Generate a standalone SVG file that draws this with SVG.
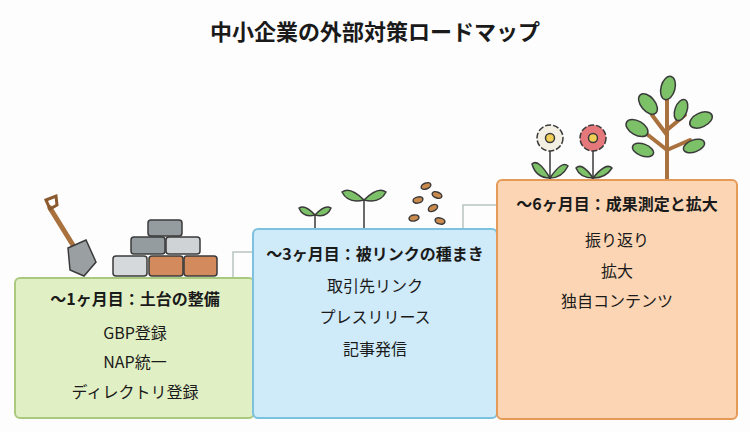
<svg xmlns="http://www.w3.org/2000/svg" width="750" height="432" viewBox="0 0 750 432">
<style>
text{font-family:"Noto Sans CJK JP","Noto Sans",sans-serif;fill:#1a1a1a;text-anchor:middle}
.h{font-size:16px;font-weight:bold}
.i{font-size:16px}
.t{font-size:22px;font-weight:bold}
.ol{stroke:#3a3a3a;stroke-width:1.5}
.conn{fill:none;stroke:#b8c4c0;stroke-width:1.5}
</style>
<rect width="750" height="432" fill="#fdfdfd"/>
<text class="t" x="375" y="40">中小企業の外部対策ロードマップ</text>
<g id="connectors">
<path class="conn" d="M233 278 V252 H254"/>
<path class="conn" d="M463 229 V205 H497"/>
</g>
<g id="deco">
<line x1="50" y1="208" x2="76" y2="250" stroke="#a9713e" stroke-width="5" stroke-linecap="round"/>
<path d="M46 200 L56 196 L57 205 L50 209 Z" fill="none" stroke="#8a5a2e" stroke-width="3"/>
<path class="ol" d="M68 248 L86 240 L96 262 L84 276 L70 270 Z" fill="#9aa0a2"/>
<g class="ol">
<rect x="148" y="220" width="34" height="16" rx="3" fill="#959ca0"/>
<rect x="131" y="237" width="34" height="17" rx="3" fill="#959ca0"/>
<rect x="166" y="237" width="34" height="17" rx="3" fill="#cfd3d5"/>
<rect x="113" y="256" width="34" height="20" rx="3" fill="#d6d9db"/>
<rect x="149" y="256" width="34" height="20" rx="3" fill="#d38a5c"/>
<rect x="184" y="256" width="33" height="20" rx="3" fill="#d38a5c"/>
</g>
<g class="ol" fill="#7cc168">
<line x1="315" y1="215" x2="315" y2="229"/>
<path d="M315 215 Q305 204 299 208 Q303 218 315 215Z"/>
<path d="M315 215 Q325 204 331 208 Q327 218 315 215Z"/>
<line x1="364" y1="200" x2="364" y2="229"/>
<path d="M364 200 Q350 186 342 192 Q348 204 364 200Z"/>
<path d="M364 200 Q378 186 386 192 Q380 204 364 200Z"/>
</g>
<g class="ol" fill="#c98a4e" stroke-width="1.2">
<ellipse cx="426" cy="186" rx="5" ry="3" transform="rotate(-20 426 186)"/>
<ellipse cx="437" cy="195" rx="5" ry="3" transform="rotate(20 437 195)"/>
<ellipse cx="418" cy="200" rx="5" ry="3" transform="rotate(-15 418 200)"/>
<ellipse cx="433" cy="208" rx="5" ry="3" transform="rotate(-30 433 208)"/>
<ellipse cx="414" cy="218" rx="5" ry="3" transform="rotate(-10 414 218)"/>
<ellipse cx="440" cy="221" rx="5" ry="3" transform="rotate(15 440 221)"/>
</g>
<g class="ol">
<line x1="550" y1="145" x2="550" y2="180"/>
<path d="M550 178 Q538 158 532 164 Q536 178 550 178Z" fill="#7cc168"/>
<path d="M550 178 Q562 160 568 166 Q562 178 550 178Z" fill="#7cc168"/>
<circle cx="550" cy="138" r="13" fill="#f3efe3" stroke-dasharray="6 2"/>
<circle cx="550" cy="138" r="4.5" fill="#f1cf57"/>
<line x1="593" y1="145" x2="593" y2="180"/>
<path d="M593 178 Q582 162 576 168 Q580 178 593 178Z" fill="#7cc168"/>
<path d="M593 178 Q606 162 612 168 Q606 178 593 178Z" fill="#7cc168"/>
<circle cx="593" cy="138" r="13" fill="#e4787a" stroke-dasharray="6 2"/>
<circle cx="593" cy="138" r="4.5" fill="#f1cf57"/>
</g>
<g>
<path d="M667 180 L667 95 M667 150 L648 135 M667 135 L652 115 M667 150 L690 140 M667 130 L685 115" fill="none" stroke="#a9713e" stroke-width="4" stroke-linecap="round"/>
<g class="ol" fill="#7cc168">
<ellipse cx="668" cy="88" rx="7" ry="12" transform="rotate(15 668 88)"/>
<ellipse cx="648" cy="104" rx="7" ry="12" transform="rotate(-40 648 104)"/>
<ellipse cx="637" cy="128" rx="7" ry="12" transform="rotate(-60 637 128)"/>
<ellipse cx="681" cy="110" rx="6" ry="11" transform="rotate(20 681 110)"/>
<ellipse cx="701" cy="120" rx="7" ry="12" transform="rotate(65 701 120)"/>
<ellipse cx="643" cy="150" rx="6" ry="11" transform="rotate(-70 643 150)"/>
<ellipse cx="694" cy="146" rx="6" ry="11" transform="rotate(70 694 146)"/>
</g>
</g>
</g>
<g id="step1">
<rect x="15" y="278" width="239" height="140" rx="5" fill="#e1f0c4" stroke="#a9c97f" stroke-width="2"/>
<text class="h" x="135" y="305">〜1ヶ月目：土台の整備</text>
<text class="i" x="135" y="339">GBP登録</text>
<text class="i" x="135" y="368">NAP統一</text>
<text class="i" x="135" y="398">ディレクトリ登録</text>
</g>
<g id="step2">
<rect x="253" y="229" width="244" height="189" rx="5" fill="#cfeaf8" stroke="#7cc2df" stroke-width="2"/>
<text class="h" x="375" y="260">〜3ヶ月目：被リンクの種まき</text>
<text class="i" x="375" y="292">取引先リンク</text>
<text class="i" x="375" y="323">プレスリリース</text>
<text class="i" x="375" y="355">記事発信</text>
</g>
<g id="step3">
<rect x="497" y="180" width="240" height="239" rx="5" fill="#fcd6b4" stroke="#e59a58" stroke-width="2"/>
<text class="h" x="617" y="210">〜6ヶ月目：成果測定と拡大</text>
<text class="i" x="617" y="246">振り返り</text>
<text class="i" x="617" y="277">拡大</text>
<text class="i" x="617" y="307">独自コンテンツ</text>
</g>
</svg>
